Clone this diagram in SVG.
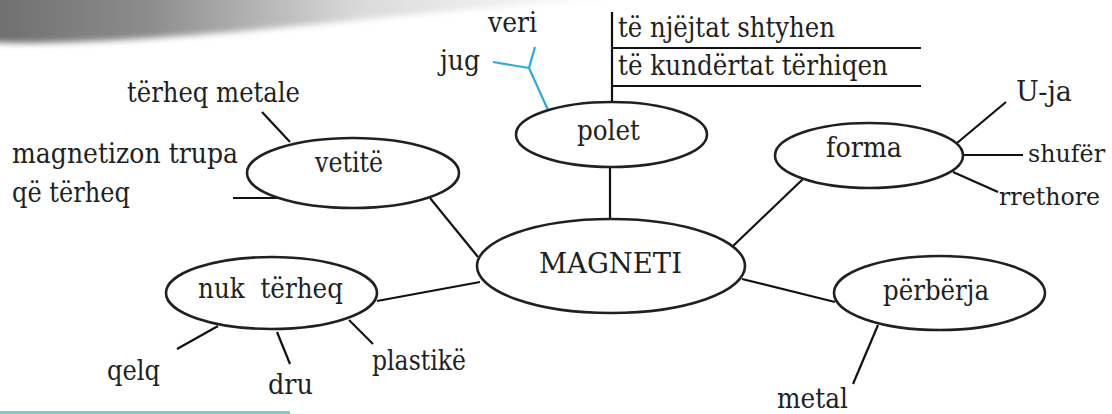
<svg xmlns="http://www.w3.org/2000/svg" width="1112" height="414" viewBox="0 0 1112 414">
<defs>
<linearGradient id="shade" x1="0" y1="0" x2="1" y2="0">
<stop offset="0" stop-color="#6e6e6e"/>
<stop offset="0.25" stop-color="#8c8c8c"/>
<stop offset="0.6" stop-color="#dcdcdc"/>
<stop offset="1" stop-color="#ffffff"/>
</linearGradient>
<filter id="soft" x="-5%" y="-50%" width="110%" height="200%"><feGaussianBlur stdDeviation="3"/></filter>
<style>
text{font-family:'DejaVu Serif',serif;font-size:28px;fill:#231f20}
.e{text-anchor:end;font-size:25px}
.n{fill:#fff;stroke:#231f20;stroke-width:2.6}
.c{stroke:#111;stroke-width:2.2;fill:none}
.b{stroke:#29abe2;stroke-width:2.2;fill:none}
</style>
</defs>
<rect width="1112" height="414" fill="#fff"/>
<path d="M-10,-10 L620,-10 L620,0 C450,6 300,30 120,40 C60,43 20,44 -10,42 Z" fill="url(#shade)" filter="url(#soft)"/>
<line x1="0" y1="412.5" x2="290" y2="412.5" stroke="#7fcbbd" stroke-width="3"/>

<g id="connectors">
<line class="c" x1="610" y1="167" x2="610" y2="219"/>
<line class="c" x1="430" y1="198" x2="478" y2="257"/>
<line class="c" x1="377" y1="301" x2="480" y2="282"/>
<line class="c" x1="803" y1="179" x2="733" y2="246"/>
<line class="c" x1="742" y1="279" x2="835" y2="302"/>
<line class="c" x1="262" y1="112" x2="290" y2="142"/>
<line class="c" x1="233" y1="198" x2="278" y2="198"/>
<line class="c" x1="218" y1="326" x2="177" y2="349"/>
<line class="c" x1="277" y1="332" x2="290" y2="364"/>
<line class="c" x1="349" y1="320" x2="373" y2="344"/>
<line class="c" x1="957" y1="143" x2="1006" y2="102"/>
<line class="c" x1="963" y1="155" x2="1023" y2="155"/>
<line class="c" x1="953" y1="172" x2="998" y2="192"/>
<line class="c" x1="878" y1="325" x2="853" y2="384"/>
<line class="c" x1="612" y1="12" x2="612" y2="101"/>
<line class="c" x1="612" y1="48" x2="921" y2="48"/>
<line class="c" x1="612" y1="86" x2="921" y2="86"/>
<polyline class="b" points="548,110 529,68 535,47"/>
<line class="b" x1="529" y1="68" x2="493" y2="62"/>
</g>

<g id="node-magneti">
<ellipse class="n" cx="611" cy="266" rx="134" ry="47"/>
<text x="539" y="273" textLength="143" lengthAdjust="spacingAndGlyphs">MAGNETI</text>
</g>
<g id="node-polet">
<ellipse class="n" cx="611.5" cy="134.5" rx="95.5" ry="32.5"/>
<text x="577" y="140" textLength="63" lengthAdjust="spacingAndGlyphs">polet</text>
</g>
<g id="node-vetite">
<ellipse class="n" cx="353" cy="173" rx="106" ry="35"/>
<text x="315" y="172" textLength="68" lengthAdjust="spacingAndGlyphs">vetitë</text>
</g>
<g id="node-forma">
<ellipse class="n" cx="869" cy="155.5" rx="94" ry="32.5"/>
<text x="826" y="157" textLength="76" lengthAdjust="spacingAndGlyphs">forma</text>
</g>
<g id="node-nuk-terheq">
<ellipse class="n" cx="271.5" cy="293" rx="105.5" ry="36"/>
<text x="198" y="298" textLength="145" lengthAdjust="spacingAndGlyphs" xml:space="preserve">nuk  tërheq</text>
</g>
<g id="node-perberja">
<ellipse class="n" cx="939.5" cy="293" rx="105.5" ry="37"/>
<text x="883" y="300" textLength="106" lengthAdjust="spacingAndGlyphs">përbërja</text>
</g>

<g id="labels">
<text x="488" y="32" textLength="49" lengthAdjust="spacingAndGlyphs">veri</text>
<text x="440" y="70" textLength="40" lengthAdjust="spacingAndGlyphs">jug</text>
<text x="618" y="37" textLength="217" lengthAdjust="spacingAndGlyphs">të njëjtat shtyhen</text>
<text x="618" y="75" textLength="270" lengthAdjust="spacingAndGlyphs">të kundërtat tërhiqen</text>
<text x="127" y="102" textLength="173" lengthAdjust="spacingAndGlyphs">tërheq metale</text>
<text x="1016" y="101" textLength="56" lengthAdjust="spacingAndGlyphs">U-ja</text>
<text class="e" x="1105" y="162" textLength="77" lengthAdjust="spacingAndGlyphs">shufër</text>
<text class="e" x="1100" y="205" textLength="101" lengthAdjust="spacingAndGlyphs">rrethore</text>
<text x="12" y="163" textLength="226" lengthAdjust="spacingAndGlyphs">magnetizon trupa</text>
<text x="12" y="202" textLength="118" lengthAdjust="spacingAndGlyphs">që tërheq</text>
<text x="372" y="370" textLength="94" lengthAdjust="spacingAndGlyphs">plastikë</text>
<text x="107" y="380" textLength="53" lengthAdjust="spacingAndGlyphs">qelq</text>
<text x="268" y="394" textLength="45" lengthAdjust="spacingAndGlyphs">dru</text>
<text x="777" y="408" textLength="71" lengthAdjust="spacingAndGlyphs">metal</text>
</g>
</svg>
